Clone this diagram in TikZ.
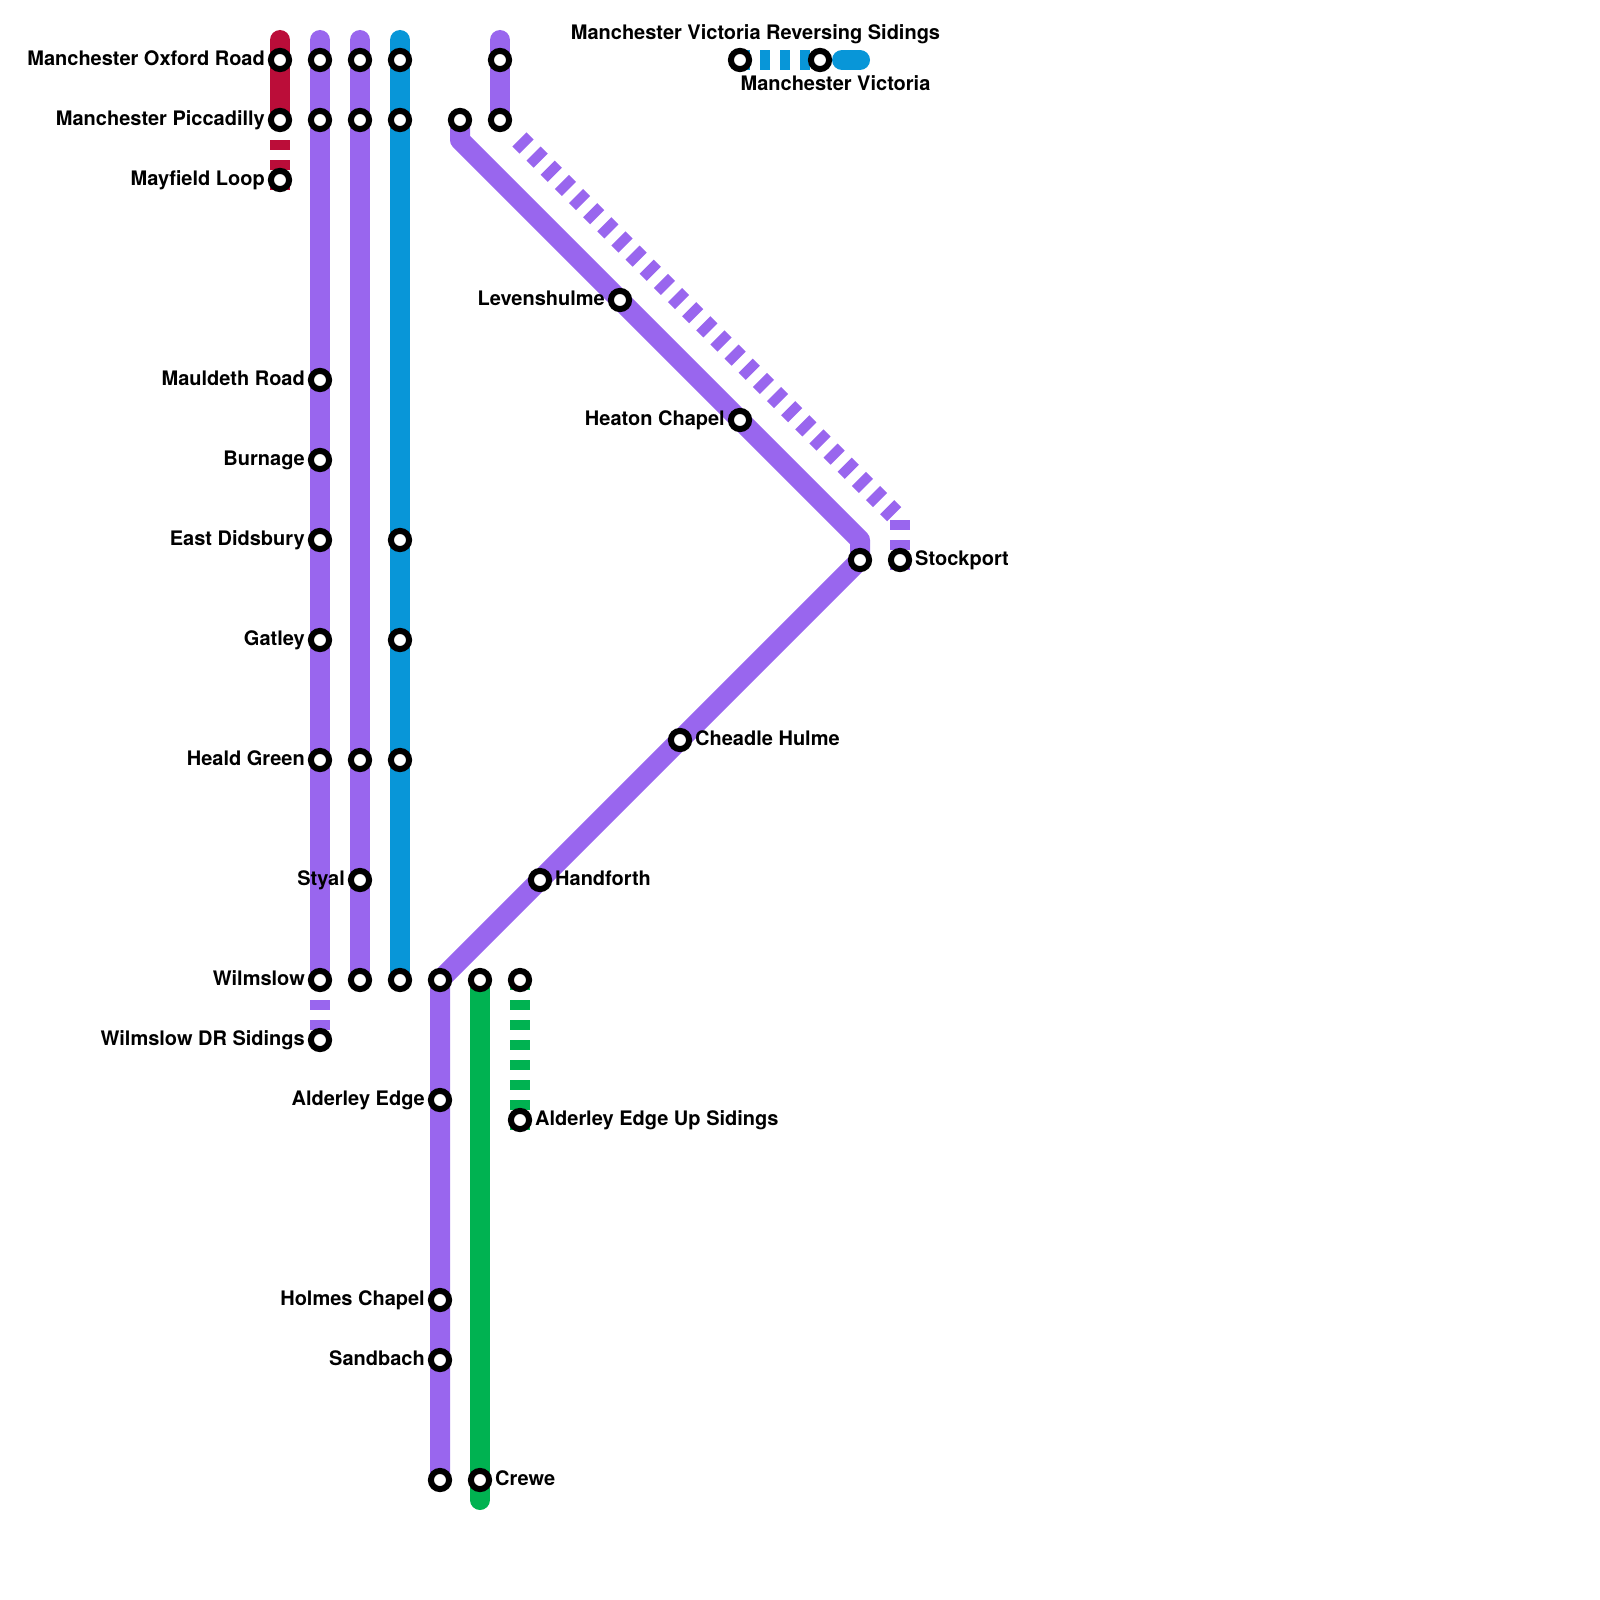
\documentclass[tikz,border=0pt]{standalone}
\usepackage{fontspec}
\usetikzlibrary{backgrounds}
\setmainfont{TeX Gyre Heros}
\definecolor{lred}{HTML}{BB0D39}
\definecolor{lpurple}{HTML}{9966EE}
\definecolor{lblue}{HTML}{0896D8}
\definecolor{lgreen}{HTML}{00B251}
\tikzset{
  sta/.style={circle,draw=black,fill=white,line width=6pt,outer sep=0pt,minimum size=18.2pt,inner sep=0pt},
  lbl/.style={font=\bfseries\fontsize{20pt}{21pt}\selectfont,inner sep=0pt,text=black,text height=14.5pt,text depth=4.5pt},
  ll/.style={lbl,anchor=east,xshift=-15pt,yshift=-0.5pt},
  lr/.style={lbl,anchor=west,xshift=15pt,yshift=-0.5pt},
  track/.style={line width=20pt,line join=round},
  rcap/.style={track,line cap=round},
  dashten/.style={track,dash pattern=on 10pt off 10pt}
}
\begin{document}
\begin{tikzpicture}[x=1pt,y=-1pt]
\useasboundingbox (0,0) rectangle (1600,1600);
% free ends
\coordinate (r0) at (280,40);
\coordinate (p10) at (320,40);
\coordinate (p20) at (360,40);
\coordinate (b0) at (400,40);
\coordinate (p50) at (500,40);
\coordinate (rd0) at (280,140);
\coordinate (rd1) at (280,190);
\coordinate (bend1) at (460,140);
\coordinate (bend2) at (860,540);
\coordinate (dd0) at (519.46,139.46);
\coordinate (dd1) at (900,520);
\coordinate (sd1) at (900,570);
\coordinate (b1a) at (842,60);
\coordinate (b1) at (860,60);
\coordinate (pd0) at (320,1000);
\coordinate (pd1) at (320,1030);
\coordinate (gd1) at (520,1130);
\coordinate (g1) at (480,1500);
% stations
\foreach \n/\x/\y in {mor/280/60,mpi/280/120,may/280/180,a1/320/60,a2/320/120,mau/320/380,bur/320/460,eas/320/540,gat/320/640,hea/320/760,wil/320/980,wds/320/1040,c1/360/60,c2/360/120,c3/360/760,sty/360/880,c4/360/980,d1/400/60,d2/400/120,d3/400/540,d4/400/640,d5/400/760,d6/400/980,e1/440/980,ald/440/1100,hol/440/1300,san/440/1360,e2/440/1480,f1/480/980,cre/480/1480,g2/520/980,aes/520/1120,h1/460/120,h2/500/60,h3/500/120,lev/620/300,hch/740/420,stq/860/560,stp/900/560,che/680/740,han/540/880,vrs/740/60,vic/820/60}{
  \node[sta] (\n) at (\x,\y) {};
}
% tracks
\begin{scope}[on background layer]
\draw[rcap,lred] (r0) -- (mpi.center);
\draw[dashten,lred] (rd0) -- (rd1);
\draw[rcap,lpurple] (p10) -- (wil.center);
\draw[dashten,lpurple] (pd0) -- (pd1);
\draw[rcap,lpurple] (p20) -- (c4.center);
\draw[rcap,lblue] (b0) -- (d6.center);
\draw[rcap,lpurple] (p50) -- (h3.center);
\draw[track,lpurple] (h1.center) -- (bend1) -- (bend2) -- (stq.center);
\draw[track,lpurple] (stq.center) -- (e1.center) -- (e2.center);
\draw[dashten,lpurple] (dd0) -- (dd1);
\draw[dashten,lpurple] (dd1) -- (sd1);
\draw[dashten,lblue] (vrs.center) -- (vic.center);
\draw[rcap,lblue] (b1a) -- (b1);
\draw[rcap,lgreen] (f1.center) -- (g1);
\draw[dashten,lgreen] (g2.center) -- (gd1);
\end{scope}
% labels
\node[ll] (tmor) at (mor) {Manchester Oxford Road};
\node[ll] (tmpi) at (mpi) {Manchester Piccadilly};
\node[ll] (tmay) at (may) {Mayfield Loop};
\node[ll] (tmau) at (mau) {Mauldeth Road};
\node[ll] (tbur) at (bur) {Burnage};
\node[ll] (teas) at (eas) {East Didsbury};
\node[ll] (tgat) at (gat) {Gatley};
\node[ll] (thea) at (hea) {Heald Green};
\node[ll] (tsty) at (sty) {Styal};
\node[ll] (twil) at (wil) {Wilmslow};
\node[ll] (twds) at (wds) {Wilmslow DR Sidings};
\node[ll] (tald) at (ald) {Alderley Edge};
\node[ll] (thol) at (hol) {Holmes Chapel};
\node[ll] (tsan) at (san) {Sandbach};
\node[ll] (tlev) at (lev) {Levenshulme};
\node[ll] (thch) at (hch) {Heaton Chapel};
\node[lr] (tstp) at (stp) {Stockport};
\node[lr] (tche) at (che) {Cheadle Hulme};
\node[lr] (than) at (han) {Handforth};
\node[lr] (taes) at (aes) {Alderley Edge Up Sidings};
\node[lr] (tcre) at (cre) {Crewe};
\node[lbl] (tvrs) at (755.5,34.5) {Manchester Victoria Reversing Sidings};
\node[lbl] (tvic) at (835.5,85.5) {Manchester Victoria};
\end{tikzpicture}
\end{document}
